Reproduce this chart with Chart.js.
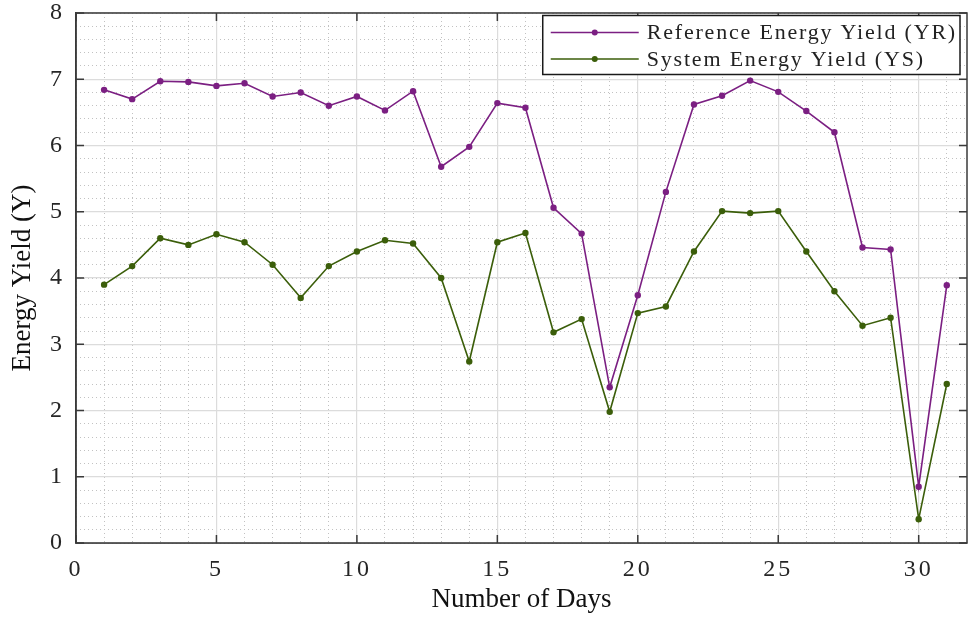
<!DOCTYPE html>
<html>
<head>
<meta charset="utf-8">
<title>Energy Yield</title>
<script src="https://cdn.jsdelivr.net/npm/chart.js@4.4.1/dist/chart.umd.min.js"></script>
<style>
  body { margin: 0; background: #fff; }
  canvas { display: block; }
</style>
</head>
<body>
<canvas id="yield-chart" width="971" height="619"></canvas>
<script>
// daily yields, kWh/kWp
var days = [1, 2, 3, 4, 5, 6, 7, 8, 9, 10, 11, 12, 13, 14, 15, 16,
            17, 18, 19, 20, 21, 22, 23, 24, 25, 26, 27, 28, 29, 30, 31];
var dat_YR = [6.84, 6.70, 6.97, 6.96, 6.90, 6.94, 6.74, 6.80, 6.60, 6.74, 6.53,
              6.82, 5.68, 5.98, 6.64, 6.57, 5.06, 4.67, 2.35, 3.74, 5.30, 6.62,
              6.75, 6.98, 6.81, 6.52, 6.20, 4.46, 4.43, 0.85, 3.89];
var dat_YS = [3.90, 4.18, 4.60, 4.50, 4.66, 4.54, 4.20, 3.70, 4.18, 4.40, 4.57,
              4.52, 4.00, 2.74, 4.54, 4.68, 3.18, 3.38, 1.98, 3.47, 3.57, 4.40,
              5.01, 4.98, 5.01, 4.40, 3.80, 3.28, 3.40, 0.36, 2.40];
var lbl_YR = "Reference Energy Yield (YR)";
var lbl_YS = "System Energy Yield (YS)";
var col_YR = "#7b1f82";
var col_YS = "#3b5e0a";

var xMax = 31.72, yMax = 8;
var serif = "'Liberation Serif', 'Times New Roman', serif";
var axisCol = "#3a3a3a";

function points(arr) {
    return days.map((d, i) => ({ x: d, y: arr[i] }));
}

function lineSet(label, arr, color) {
    return {
        label: label,
        data: points(arr),
        borderColor: color,
        backgroundColor: color,
        borderWidth: 1.6,
        pointRadius: 3.2,
        pointBorderWidth: 0,
        pointBackgroundColor: color,
        fill: false,
        tension: 0
    };
}

// no extra room for overhanging tick labels, the padding below decides the plot box
function noOverhang(s) {
    s.paddingTop = 0;
    s.paddingBottom = 0;
    s.paddingLeft = 0;
    s.paddingRight = 0;
}

// tick digits are drawn a little spread out
const spacedTicks = {
    id: 'spacedTicks',
    beforeDraw(chart) {
        ['x', 'y'].forEach(id => {
            var sc = chart.scales[id];
            if (sc._spaced) return;
            var orig = sc.drawLabels;
            sc.drawLabels = function (area) {
                var ctx = this.ctx;
                ctx.save();
                ctx.letterSpacing = '3px';
                orig.call(this, area);
                ctx.restore();
            };
            sc._spaced = true;
        });
    }
};

// box round the plot with inward tick marks on all four sides
const frameBox = {
    id: 'frameBox',
    afterDatasetsDraw(chart) {
        var ctx = chart.ctx, a = chart.chartArea;
        var sx = chart.scales.x, sy = chart.scales.y;
        var len = 8;
        ctx.save();
        ctx.strokeStyle = axisCol;
        ctx.lineWidth = 1.5;
        ctx.strokeRect(a.left, a.top, a.right - a.left, a.bottom - a.top);
        ctx.beginPath();
        sx.ticks.forEach(t => {
            var px = sx.getPixelForValue(t.value);
            ctx.moveTo(px, a.bottom); ctx.lineTo(px, a.bottom - len);
            ctx.moveTo(px, a.top);    ctx.lineTo(px, a.top + len);
        });
        sy.ticks.forEach(t => {
            var py = sy.getPixelForValue(t.value);
            ctx.moveTo(a.left, py);  ctx.lineTo(a.left + len, py);
            ctx.moveTo(a.right, py); ctx.lineTo(a.right - len, py);
        });
        ctx.stroke();
        ctx.restore();
    }
};

// boxed legend in the top right corner
const boxLegend = {
    id: 'boxLegend',
    afterDraw(chart) {
        var ctx = chart.ctx, a = chart.chartArea;
        var sets = chart.data.datasets;
        ctx.save();
        ctx.font = "22px " + serif;
        ctx.letterSpacing = '1.8px';
        var w = 0;
        sets.forEach(ds => { w = Math.max(w, ctx.measureText(ds.label).width); });
        var right = a.right - 7, top = a.top + 2.5;
        var bw = 104 + w + 3, bh = 59;
        var left = right - bw;
        ctx.fillStyle = "#fff";
        ctx.fillRect(left, top, bw, bh);
        ctx.strokeStyle = "#1a1a1a";
        ctx.lineWidth = 1.5;
        ctx.strokeRect(left, top, bw, bh);
        sets.forEach((ds, i) => {
            var cy = top + 17 + i * 26.5;
            ctx.strokeStyle = ds.borderColor;
            ctx.lineWidth = 1.5;
            ctx.beginPath();
            ctx.moveTo(left + 8, cy);
            ctx.lineTo(left + 96, cy);
            ctx.stroke();
            ctx.fillStyle = ds.borderColor;
            ctx.beginPath();
            ctx.arc(left + 52, cy, 3, 0, Math.PI * 2);
            ctx.fill();
            ctx.fillStyle = "#222";
            ctx.textBaseline = "middle";
            ctx.fillText(ds.label, left + 104, cy + 1);
        });
        ctx.restore();
    }
};

var ctx = document.getElementById("yield-chart").getContext('2d');
var chart = new Chart(ctx, {
    type: 'line',
    data: {
        datasets: [
            lineSet(lbl_YR, dat_YR, col_YR),
            lineSet(lbl_YS, dat_YS, col_YS)
        ]
    },
    plugins: [spacedTicks, frameBox, boxLegend],
    options: {
        responsive: false,
        animation: false,
        layout: { padding: { top: 13, right: 0, left: 0, bottom: 0 } },
        plugins: {
            legend: { display: false },
            tooltip: { enabled: false }
        },
        scales: {
            x: {
                type: 'linear',
                position: 'bottom',
                min: 0,
                max: xMax,
                afterFit: s => { s.height = 76; noOverhang(s); },
                ticks: {
                    stepSize: 5,
                    includeBounds: false,
                    padding: 12,
                    color: "#262626",
                    font: { family: serif, size: 24 }
                },
                grid: { color: "#dcdcdc", lineWidth: 1.2, drawTicks: false, z: 0 },
                border: { display: true, color: axisCol, width: 1.5 },
                title: {
                    display: true,
                    text: "Number of Days",
                    color: "#111",
                    font: { family: serif, size: 27 },
                    padding: { top: 0, bottom: 3 }
                }
            },
            y: {
                type: 'linear',
                position: 'left',
                min: 0,
                max: yMax,
                afterFit: s => { s.width = 76; noOverhang(s); },
                ticks: {
                    stepSize: 1,
                    padding: 11,
                    color: "#262626",
                    font: { family: serif, size: 24 }
                },
                grid: { color: "#dcdcdc", lineWidth: 1.2, drawTicks: false, z: 0 },
                border: { display: true, color: axisCol, width: 1.5 },
                title: {
                    display: true,
                    text: "Energy Yield (Y)",
                    color: "#111",
                    font: { family: serif, size: 27 },
                    padding: { top: 7, bottom: 0 }
                }
            },
            // dotted minor grid
            xMinor: {
                type: 'linear',
                position: 'top',
                min: 0,
                max: xMax,
                afterFit: s => { s.height = 0; noOverhang(s); },
                ticks: { display: false, stepSize: 1, includeBounds: false },
                grid: { color: "#c2c2c2", lineWidth: 1, drawTicks: false, z: -1 },
                border: { display: false, dash: [1, 3] }
            },
            yMinor: {
                type: 'linear',
                position: 'right',
                min: 0,
                max: yMax,
                afterFit: s => { s.width = 0; noOverhang(s); },
                ticks: { display: false, stepSize: 0.2 },
                grid: { color: "#c2c2c2", lineWidth: 1, drawTicks: false, z: -1 },
                border: { display: false, dash: [1, 3] }
            }
        }
    }
});
</script>
</body>
</html>
